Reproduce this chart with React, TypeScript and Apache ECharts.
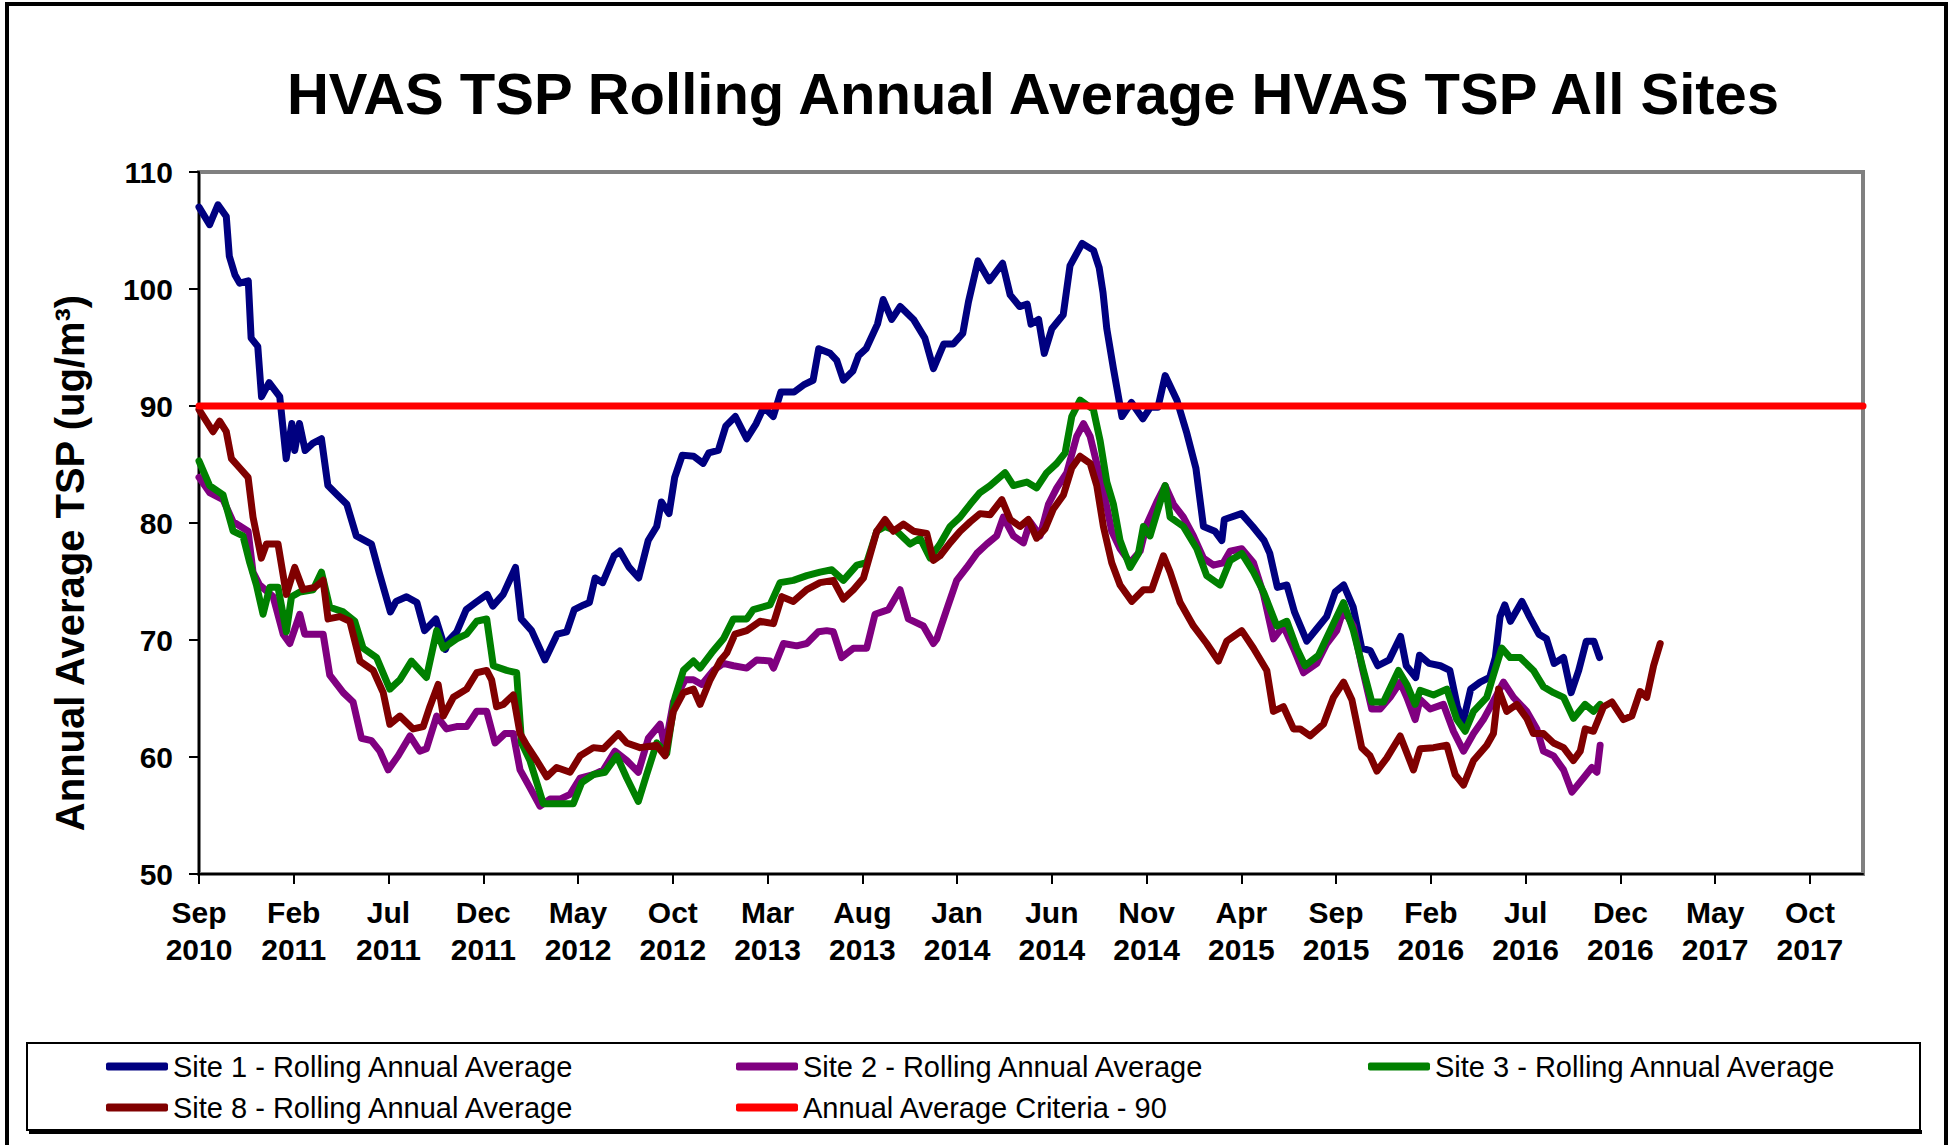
import React, { useEffect, useRef } from "react";
import * as echarts from "echarts";

const FONT = '"Liberation Sans", Arial, Helvetica, sans-serif';

const chartTitle = "HVAS TSP Rolling Annual Average HVAS TSP All Sites";
const yAxisTitle = "Annual Average TSP (ug/m³)";

// x values are months counted from Sep 2010
const xTickLabels = [
  "Sep\n2010", "Feb\n2011", "Jul\n2011", "Dec\n2011", "May\n2012", "Oct\n2012",
  "Mar\n2013", "Aug\n2013", "Jan\n2014", "Jun\n2014", "Nov\n2014", "Apr\n2015",
  "Sep\n2015", "Feb\n2016", "Jul\n2016", "Dec\n2016", "May\n2017", "Oct\n2017",
];

const seriesNames = [
  "Site 1 - Rolling Annual Average",
  "Site 2 - Rolling Annual Average",
  "Site 3 - Rolling Annual Average",
  "Site 8 - Rolling Annual Average",
  "Annual Average Criteria - 90",
];
const seriesColors = ["#000080", "#800080", "#008000", "#800000", "#FF0000"];

const site1 = [
  [0,107.0],[0.56,105.5],[1.0,107.2],[1.44,106.2],[1.6,102.8],[1.9,101.2],[2.15,100.5],[2.6,100.7],[2.75,95.8],[3.1,95.1],
  [3.3,90.8],[3.7,92.0],[4.26,90.8],[4.6,85.5],[4.9,88.5],[5.05,86.2],[5.3,88.5],[5.6,86.2],[6.0,86.8],[6.46,87.2],
  [6.8,83.2],[7.3,82.4],[7.8,81.6],[8.3,78.9],[9.1,78.2],[9.5,75.8],[10.1,72.4],[10.4,73.3],[10.95,73.7],[11.5,73.2],
  [11.9,70.8],[12.5,71.8],[13.0,69.2],[13.2,70.0],[13.6,70.7],[14.1,72.6],[14.6,73.2],[15.2,73.9],[15.5,72.9],[16.05,73.9],
  [16.7,76.2],[17.0,71.8],[17.55,70.8],[18.25,68.3],[18.9,70.5],[19.4,70.7],[19.8,72.6],[20.3,73.0],[20.6,73.2],[20.9,75.3],
  [21.3,74.9],[21.9,77.2],[22.2,77.6],[22.7,76.2],[23.2,75.3],[23.7,78.5],[24.15,79.7],[24.4,81.8],[24.8,80.8],[25.1,83.9],
  [25.5,85.8],[26.1,85.7],[26.6,85.1],[26.9,86.0],[27.4,86.2],[27.8,88.3],[28.3,89.1],[28.9,87.2],[29.4,88.5],[29.8,89.9],
  [30.3,89.1],[30.7,91.2],[31.4,91.2],[31.9,91.8],[32.4,92.2],[32.7,94.9],[33.3,94.5],[33.65,93.9],[34.0,92.2],[34.5,93.0],
  [34.8,94.3],[35.2,94.9],[35.8,97.0],[36.1,99.1],[36.55,97.4],[37.0,98.5],[37.7,97.4],[38.3,95.8],[38.75,93.2],[39.3,95.3],
  [39.8,95.3],[40.3,96.2],[40.6,98.9],[41.1,102.4],[41.7,100.7],[42.4,102.2],[42.8,99.5],[43.3,98.5],[43.7,98.7],[43.9,97.0],
  [44.3,97.4],[44.6,94.5],[45.0,96.6],[45.6,97.8],[45.96,102.0],[46.6,103.9],[47.2,103.3],[47.5,101.8],[47.7,99.7],[47.9,96.6],
  [48.25,93.2],[48.7,89.1],[49.2,90.3],[49.8,88.9],[50.2,89.9],[50.6,89.9],[50.98,92.6],[51.6,90.5],[52.1,87.8],[52.6,84.7],
  [53.0,79.7],[53.6,79.3],[53.97,78.5],[54.1,80.3],[55.0,80.8],[55.6,79.7],[56.2,78.5],[56.5,77.4],[56.9,74.5],[57.4,74.7],
  [57.8,72.4],[58.45,69.9],[59.0,71.0],[59.5,72.0],[59.95,74.1],[60.4,74.7],[60.9,72.8],[61.35,69.3],[61.8,69.1],[62.2,67.8],
  [62.8,68.3],[63.4,70.3],[63.7,67.8],[64.2,66.8],[64.4,68.7],[64.9,68.0],[65.5,67.8],[66.0,67.4],[66.4,64.3],[66.7,63.0],
  [67.1,65.8],[67.6,66.4],[68.1,66.8],[68.4,68.5],[68.65,72.0],[68.9,73.0],[69.2,71.6],[69.8,73.3],[70.2,72.0],[70.7,70.5],
  [71.1,70.1],[71.5,68.0],[72.0,68.5],[72.4,65.5],[72.8,67.4],[73.2,69.9],[73.6,69.9],[73.9,68.5],
];

const site2 = [
  [0,83.9],[0.56,82.6],[1.27,82.0],[1.8,80.1],[2.59,79.3],[2.85,75.8],[3.2,74.7],[3.91,73.7],[4.44,70.5],[4.79,69.7],
  [5.32,72.2],[5.58,70.5],[6.2,70.5],[6.55,70.5],[6.9,67.0],[7.61,65.5],[8.13,64.7],[8.57,61.6],[9.1,61.4],[9.54,60.5],
  [9.98,58.9],[10.51,60.1],[11.13,61.8],[11.65,60.5],[12.0,60.7],[12.54,63.5],[13.06,62.4],[13.59,62.6],[14.12,62.6],[14.65,63.9],
  [15.18,63.9],[15.62,61.2],[16.14,62.0],[16.58,62.0],[16.94,58.9],[17.46,57.4],[17.99,55.8],[18.52,56.4],[19.05,56.4],[19.58,56.8],
  [20.11,58.2],[20.81,58.5],[21.34,58.9],[21.95,60.5],[22.57,59.7],[23.18,58.7],[23.71,61.6],[24.33,62.8],[24.59,60.8],[25.03,64.7],
  [25.65,66.6],[26.09,66.6],[26.53,66.2],[27.14,67.4],[27.67,68.0],[28.2,67.8],[28.9,67.6],[29.43,68.3],[30.13,68.2],[30.31,67.6],
  [30.84,69.7],[31.54,69.5],[32.07,69.7],[32.68,70.7],[33.12,70.8],[33.47,70.7],[33.91,68.5],[34.53,69.3],[35.23,69.3],[35.67,72.2],
  [36.38,72.6],[36.99,74.3],[37.43,71.8],[38.22,71.2],[38.75,69.7],[38.93,70.1],[39.45,72.6],[39.98,75.1],[40.51,76.2],[41.04,77.4],
  [41.57,78.2],[42.09,78.9],[42.44,80.5],[42.97,78.9],[43.5,78.3],[43.85,80.1],[44.38,78.9],[44.82,81.6],[45.26,83.0],[45.79,84.3],
  [46.31,87.4],[46.67,88.5],[47.02,87.4],[47.37,85.1],[47.72,82.8],[48.16,79.3],[48.6,77.8],[49.13,76.6],[49.66,77.6],[50.01,79.9],
  [50.54,81.8],[50.98,83.2],[51.42,81.6],[51.94,80.5],[52.47,78.9],[53.0,77.0],[53.53,76.4],[54.05,76.6],[54.41,77.6],[55.02,77.8],
  [55.64,76.6],[56.17,73.9],[56.69,70.1],[57.22,71.2],[57.75,69.3],[58.28,67.2],[58.98,68.0],[59.51,69.7],[60.03,70.8],[60.39,72.6],
  [60.91,71.2],[61.35,67.8],[61.88,64.1],[62.32,64.1],[62.85,65.1],[63.38,66.4],[63.73,65.1],[64.17,63.2],[64.43,64.9],[64.96,64.1],
  [65.66,64.5],[66.19,62.2],[66.72,60.5],[67.25,62.0],[67.77,63.2],[68.21,64.5],[68.83,66.4],[69.36,65.1],[70.06,63.9],[70.59,62.4],
  [70.94,60.5],[71.47,60.1],[72.0,58.9],[72.44,57.0],[73.05,58.2],[73.49,59.1],[73.76,58.7],[73.93,61.0],
];

const site3 = [
  [0,85.3],[0.56,83.2],[1.27,82.4],[1.8,79.3],[2.32,78.9],[2.68,76.6],[3.03,74.7],[3.38,72.2],[3.73,74.5],[4.17,74.5],
  [4.61,70.7],[4.88,73.7],[5.32,74.1],[6.02,74.3],[6.46,75.8],[6.9,72.8],[7.61,72.4],[8.22,71.6],[8.66,69.3],[9.37,68.5],
  [10.07,65.8],[10.6,66.6],[11.21,68.2],[12.0,66.8],[12.54,70.8],[12.89,69.3],[13.59,70.1],[14.12,70.5],[14.65,71.6],[15.18,71.8],
  [15.53,67.8],[16.23,67.4],[16.76,67.2],[17.02,61.2],[17.46,59.7],[18.17,56.0],[18.87,56.0],[19.75,56.0],[20.19,57.8],[20.81,58.5],
  [21.42,58.7],[22.04,60.1],[22.57,58.2],[23.18,56.2],[23.62,58.5],[24.15,61.2],[24.68,60.3],[25.12,65.1],[25.56,67.4],[26.09,68.2],
  [26.44,67.6],[27.05,68.9],[27.67,70.1],[28.2,71.8],[28.9,71.8],[29.25,72.6],[30.13,73.0],[30.66,74.9],[31.36,75.1],[32.07,75.5],
  [32.77,75.8],[33.39,76.0],[34.0,75.1],[34.71,76.4],[35.23,76.6],[35.76,79.3],[36.2,79.7],[36.82,79.3],[37.52,78.2],[38.05,78.7],
  [38.58,77.0],[39.1,78.2],[39.63,79.7],[40.16,80.5],[40.69,81.6],[41.21,82.6],[41.74,83.2],[42.53,84.3],[42.97,83.2],[43.68,83.5],
  [44.2,83.0],[44.73,84.3],[45.26,85.1],[45.7,86.0],[46.05,89.1],[46.49,90.5],[47.19,89.7],[47.55,87.0],[47.9,83.5],[48.25,81.6],
  [48.6,78.5],[49.13,76.2],[49.57,77.4],[49.83,79.7],[50.18,78.9],[50.98,83.2],[51.24,80.5],[51.94,79.7],[52.65,77.8],[53.17,75.5],
  [53.88,74.7],[54.41,76.8],[55.02,77.4],[55.64,75.8],[56.17,74.1],[56.87,71.2],[57.4,71.6],[57.92,69.3],[58.36,67.8],[59.07,68.7],
  [59.68,70.8],[60.39,73.2],[60.91,70.8],[61.44,67.4],[61.88,64.7],[62.5,64.7],[63.29,67.4],[63.73,66.2],[64.17,64.5],[64.43,65.7],
  [65.14,65.3],[65.84,65.8],[66.37,63.2],[66.81,62.2],[67.25,63.9],[67.95,65.1],[68.3,67.0],[68.74,69.3],[69.18,68.5],[69.71,68.5],
  [70.41,67.4],[70.94,66.0],[71.47,65.5],[72.0,65.1],[72.52,63.3],[73.14,64.5],[73.58,63.9],[73.93,64.5],
];

const site8 = [
  [0,89.7],[0.74,87.8],[1.09,88.7],[1.44,87.8],[1.71,85.5],[2.15,84.7],[2.59,83.9],[2.85,80.5],[3.29,77.0],[3.56,78.2],
  [4.17,78.2],[4.61,73.9],[5.05,76.2],[5.49,74.3],[6.11,74.5],[6.55,75.1],[6.81,71.8],[7.43,72.0],[7.96,71.6],[8.49,68.2],
  [9.19,67.4],[9.72,65.5],[10.07,62.8],[10.6,63.5],[11.3,62.4],[11.83,62.6],[12.18,64.3],[12.62,66.2],[12.89,63.5],[13.42,65.1],
  [14.12,65.8],[14.65,67.2],[15.18,67.4],[15.44,66.6],[15.7,64.3],[16.06,64.5],[16.58,65.3],[16.94,62.0],[17.29,61.0],[17.82,59.7],
  [18.35,58.3],[18.87,59.1],[19.58,58.7],[20.11,60.1],[20.81,60.8],[21.34,60.7],[22.13,62.0],[22.57,61.2],[23.27,60.8],[24.15,61.0],
  [24.59,60.1],[25.03,63.9],[25.56,65.5],[26.09,65.8],[26.44,64.5],[26.97,66.6],[27.49,68.2],[27.85,68.9],[28.28,70.5],[28.9,70.8],
  [29.6,71.6],[30.31,71.4],[30.75,73.7],[31.36,73.3],[32.07,74.3],[32.77,74.9],[33.47,75.1],[34.0,73.5],[34.53,74.3],[35.06,75.3],
  [35.76,79.3],[36.2,80.3],[36.64,79.3],[37.17,79.9],[37.7,79.3],[38.4,79.1],[38.75,76.8],[39.1,77.2],[39.63,78.3],[40.16,79.3],
  [40.69,80.1],[41.21,80.8],[41.74,80.7],[42.36,82.0],[42.8,80.3],[43.32,79.7],[43.76,80.3],[44.2,78.7],[44.64,79.5],[45.08,81.2],
  [45.61,82.4],[46.05,84.7],[46.49,85.7],[47.02,85.1],[47.37,83.2],[47.72,79.7],[48.16,76.6],[48.6,74.7],[49.22,73.3],[49.83,74.3],
  [50.27,74.3],[50.89,77.2],[51.24,75.8],[51.77,73.2],[52.47,71.2],[53.17,69.7],[53.79,68.2],[54.23,69.9],[55.02,70.8],[55.64,69.3],
  [56.34,67.4],[56.69,63.9],[57.22,64.3],[57.75,62.4],[58.1,62.4],[58.63,61.8],[59.33,62.8],[59.86,65.1],[60.39,66.4],[60.83,64.9],
  [61.35,60.8],[61.79,60.1],[62.15,58.8],[62.67,59.9],[63.38,61.8],[64.08,58.9],[64.43,60.7],[65.14,60.8],[65.84,61.0],[66.28,58.5],
  [66.72,57.6],[67.25,59.7],[67.95,61.0],[68.3,62.0],[68.57,65.8],[69.0,63.9],[69.53,64.5],[70.06,63.3],[70.41,62.0],[70.94,62.0],
  [71.47,61.2],[72.0,60.8],[72.52,59.7],[72.88,60.5],[73.14,62.4],[73.58,62.2],[74.11,64.3],[74.55,64.7],[75.16,63.2],[75.6,63.5],
  [76.04,65.6],[76.39,65.1],[76.75,67.8],[77.1,69.7],
];

const X_MAX = 87.8;
const criteria = [[0, 90], [X_MAX, 90]];

const seriesData = [site1, site2, site3, site8, criteria];

// legend item positions (layout)
const legendPos = [
  { left: 106, top: 1052 },
  { left: 736, top: 1052 },
  { left: 1368, top: 1052 },
  { left: 106, top: 1093 },
  { left: 736, top: 1093 },
];

export default function App() {
  const ref = useRef<HTMLDivElement>(null);

  useEffect(() => {
    document.body.style.margin = "0";
    if (!ref.current) return;
    const chart = echarts.init(ref.current, undefined, { renderer: "svg" });

    const option: any = {
      animation: false,
      backgroundColor: "#ffffff",
      textStyle: { fontFamily: FONT },
      grid: {
        left: 199,
        top: 172,
        width: 1664,
        height: 702,
        show: true,
        borderColor: "#808080",
        borderWidth: 4,
        backgroundColor: "#ffffff",
      },
      xAxis: {
        type: "value",
        min: 0,
        max: X_MAX,
        interval: 5,
        splitLine: { show: false },
        axisLine: { show: true, onZero: false, lineStyle: { color: "#000", width: 2 } },
        axisTick: { show: true, length: 10, lineStyle: { color: "#000", width: 2 } },
        axisLabel: {
          margin: 20,
          color: "#000",
          fontSize: 30,
          fontWeight: "bold",
          fontFamily: FONT,
          lineHeight: 37,
          showMaxLabel: false,
          formatter: (v: number) => {
            const i = Math.round(v / 5);
            if (Math.abs(v - i * 5) > 1e-6) return "";
            return xTickLabels[i] ?? "";
          },
        },
      },
      yAxis: {
        type: "value",
        min: 50,
        max: 110,
        interval: 10,
        splitLine: { show: false },
        axisLine: { show: true, lineStyle: { color: "#000", width: 2 } },
        axisTick: { show: true, length: 10, lineStyle: { color: "#000", width: 2 } },
        axisLabel: {
          margin: 26,
          color: "#000",
          fontSize: 30,
          fontWeight: "bold",
          fontFamily: FONT,
        },
      },
      legend: seriesNames.map((n, i) => ({
        data: [n],
        left: legendPos[i].left,
        top: legendPos[i].top,
        padding: 0,
        itemWidth: 62,
        itemHeight: 8,
        icon: "roundRect",
        selectedMode: false,
        textStyle: { fontSize: 29, color: "#000", fontFamily: FONT },
      })),
      graphic: [
        {
          type: "rect",
          shape: { x: 7, y: 4, width: 1939, height: 1300 },
          style: { fill: "none", stroke: "#000", lineWidth: 4 },
          silent: true,
        },
        {
          type: "rect",
          shape: { x: 27, y: 1043, width: 1893, height: 87 },
          style: { fill: "none", stroke: "#000", lineWidth: 2 },
          silent: true,
        },
        {
          type: "line",
          shape: { x1: 29, y1: 1132, x2: 1922, y2: 1132 },
          style: { stroke: "#000", lineWidth: 4 },
          silent: true,
        },
        {
          type: "text",
          x: 1033,
          y: 93,
          style: {
            text: chartTitle,
            fill: "#000",
            fontSize: 58,
            fontWeight: "bold",
            fontFamily: FONT,
            align: "center",
            verticalAlign: "middle",
          },
          silent: true,
        },
        {
          type: "text",
          x: 70,
          y: 563,
          rotation: Math.PI / 2,
          style: {
            text: yAxisTitle,
            fill: "#000",
            fontSize: 40,
            fontWeight: "bold",
            fontFamily: FONT,
            align: "center",
            verticalAlign: "middle",
          },
          silent: true,
        },
      ],
      series: seriesNames.map((n, i) => ({
        name: n,
        type: "line",
        data: seriesData[i],
        showSymbol: false,
        symbol: "none",
        color: seriesColors[i],
        lineStyle: { color: seriesColors[i], width: 7, cap: "round", join: "round" },
        z: 2 + i,
      })),
    };

    chart.setOption(option);
    return () => chart.dispose();
  }, []);

  return <div ref={ref} style={{ width: 1950, height: 1145 }} />;
}
